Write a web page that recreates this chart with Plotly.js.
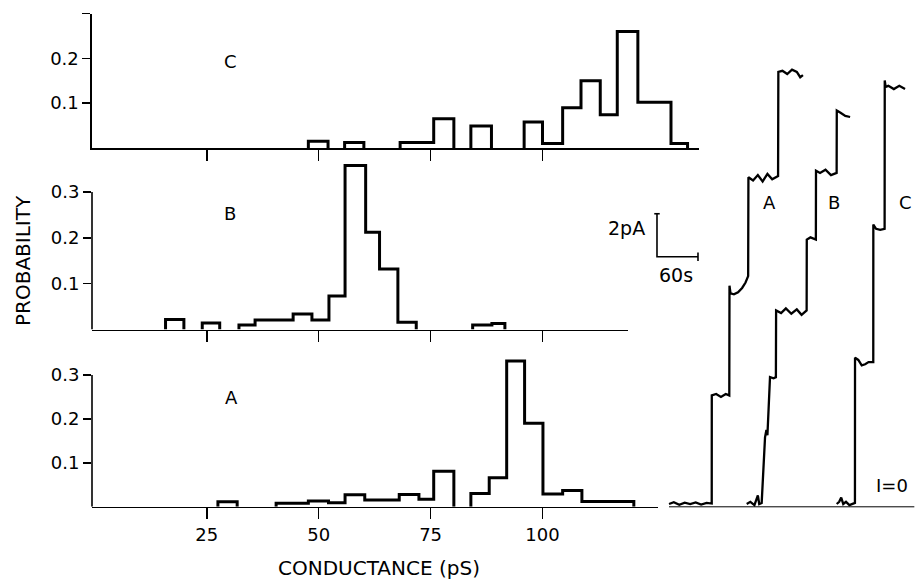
<!DOCTYPE html>
<html>
<head>
<meta charset="utf-8">
<script src="https://cdn.plot.ly/plotly-3.0.1.min.js"></script>
<style>html,body{margin:0;padding:0;background:#fff}#chart{width:915px;height:583px}</style>
</head>
<body>
<div id="chart"></div>
<script>
// ---------- Histogram data (conductance bins in pS, probability) ----------
const cLeft  = [47.7, 55.8, 68.2, 75.7, 84.0, 95.9, 100.0, 104.5, 108.6, 112.9, 116.7, 121.3, 128.7];
const cRight = [52.1, 60.1, 75.7, 80.2, 88.6, 100.0, 104.5, 108.6, 112.9, 116.7, 121.3, 128.7, 132.4];
const cProb  = [0.015, 0.012, 0.012, 0.065, 0.049, 0.058, 0.010, 0.090, 0.150, 0.074, 0.260, 0.102, 0.010];

const bLeft  = [15.8, 24.0, 32.2, 35.8, 44.3, 48.5, 52.3, 55.9, 60.5, 63.6, 67.7, 84.4, 88.7];
const bRight = [19.9, 27.9, 35.8, 44.3, 48.5, 52.3, 55.9, 60.5, 63.6, 67.7, 71.8, 88.7, 91.6];
const bProb  = [0.022, 0.014, 0.010, 0.021, 0.034, 0.021, 0.073, 0.358, 0.212, 0.132, 0.016, 0.010, 0.013];

const aLeft  = [27.5, 40.5, 47.7, 52.2, 55.9, 60.3, 68.0, 72.4, 75.7, 84.0, 88.1, 92.0, 96.0, 100.1, 104.5, 108.8];
const aRight = [31.8, 47.7, 52.2, 55.9, 60.3, 68.0, 72.4, 75.7, 80.2, 88.1, 92.0, 96.0, 100.1, 104.5, 108.8, 120.4];
const aProb  = [0.011, 0.008, 0.013, 0.009, 0.027, 0.015, 0.028, 0.017, 0.081, 0.030, 0.066, 0.332, 0.190, 0.029, 0.037, 0.012];

const condTicks = [25, 50, 75, 100];
const condTickText = ['25', '50', '75', '100'];
const probTicks = [0.1, 0.2, 0.3];

// ---------- Current recordings (time in s, current in pA) ----------
const recA_t = [101,108,116,124,132,140,148,156,163.5,163.6,170,177,184,189.2,189.5,191,196,202,208,213,216.8,217.2,224,231,238,245,252,260.6,261,267,274,281,288,293,297];
const recA_i = [0,0.08,-0.04,0.06,0,0.07,-0.03,0.05,0.02,5.05,5.12,4.98,5.12,5.05,10.15,9.8,9.75,9.85,10.05,10.3,10.6,15.2,15.05,15.3,15.0,15.35,15.1,15.25,20.1,20.15,20.0,20.2,20.1,19.85,19.95];

const recB_t = [214.7,220,226,231,233,236.6,241.5,243.5,245,248.8,254,257.4,257.7,265,272,280,288,295,302.4,302.6,308,315.9,316.1,322,330,338,346.3,346.5,352,359,366];
const recB_i = [0,0.1,-0.05,0.4,0,0.05,3.1,3.45,3.2,5.9,5.85,5.9,9.0,8.88,9.1,8.85,9.05,8.8,9.0,12.3,12.4,12.3,15.5,15.4,15.55,15.3,15.4,18.3,18.2,18.05,18.0];

const recC_t = [346.4,350,353,356,360,365,373.1,373.2,378,383,388,393,399.9,400,404,410,416.5,416.7,418,422,430,438,446.4];
const recC_i = [0,0.1,0.3,0,0.1,-0.05,0.05,6.8,6.7,6.45,6.5,6.6,6.6,13.0,12.8,12.75,12.8,19.7,19.4,19.45,19.3,19.45,19.3];

const zeroLine_t = [101, 460];
const zeroLine_i = [-0.13, -0.13];

// scale bar: origin (s, pA), sizes
const scaleOrigin = [83.4, 11.5];
const scaleCurrent = 2;   // pA
const scaleTime = 60;     // s

// ---------- helpers ----------
const W = 915, H = 583;
const fx = px => px / W;
const fy = py => 1 - py / H;
const FONT = 'DejaVu Sans, Liberation Sans, Arial, sans-serif';

function histPath(L, R, P) {
  const xs = [], ys = [];
  let prevR = null;
  for (let i = 0; i < L.length; i++) {
    if (prevR === null || Math.abs(L[i] - prevR) > 0.05) {
      if (prevR !== null) { xs.push(prevR, null); ys.push(0, null); }
      xs.push(L[i]); ys.push(0);
    }
    xs.push(L[i], R[i]); ys.push(P[i], P[i]);
    prevR = R[i];
  }
  xs.push(prevR); ys.push(0);
  return {x: xs, y: ys};
}

const hC = histPath(cLeft, cRight, cProb);
const hB = histPath(bLeft, bRight, bProb);
const hA = histPath(aLeft, aRight, aProb);

const histLine = {color: '#000', width: 3, shape: 'linear'};
const recLine = {color: '#000', width: 2.3};

const sx = scaleOrigin[0], sy = scaleOrigin[1];
const cap = 4;
const scaleBar = {
  x: [sx - cap, sx + cap, null, sx, sx, sx + scaleTime, null, sx + scaleTime, sx + scaleTime],
  y: [sy + scaleCurrent, sy + scaleCurrent, null, sy + scaleCurrent, sy, sy, null, sy - 0.2, sy + 0.2]
};

const data = [
  {x: hC.x, y: hC.y, xaxis: 'x', yaxis: 'y', mode: 'lines', line: histLine, hoverinfo: 'skip'},
  {x: hB.x, y: hB.y, xaxis: 'x2', yaxis: 'y2', mode: 'lines', line: histLine, hoverinfo: 'skip'},
  {x: hA.x, y: hA.y, xaxis: 'x3', yaxis: 'y3', mode: 'lines', line: histLine, hoverinfo: 'skip'},
  {x: zeroLine_t, y: zeroLine_i, xaxis: 'x4', yaxis: 'y4', mode: 'lines', line: {color: '#000', width: 1}},
  {x: recA_t, y: recA_i, xaxis: 'x4', yaxis: 'y4', mode: 'lines', line: recLine},
  {x: recB_t, y: recB_i, xaxis: 'x4', yaxis: 'y4', mode: 'lines', line: recLine},
  {x: recC_t, y: recC_i, xaxis: 'x4', yaxis: 'y4', mode: 'lines', line: recLine},
  {x: scaleBar.x, y: scaleBar.y, xaxis: 'x4', yaxis: 'y4', mode: 'lines', line: {color: '#000', width: 1.6}}
];

const pxPerPS = 4.477, zeroPx = 94.8;
const psAt = px => (px - zeroPx) / pxPerPS;

function xAx(endPx, anchor, labels) {
  return {
    domain: [fx(92), fx(endPx)], range: [psAt(92), psAt(endPx)], anchor: anchor,
    showline: true, linecolor: '#000', linewidth: 1.6, showgrid: false, zeroline: false,
    ticks: 'outside', ticklen: 11, tickwidth: 1.6, tickcolor: '#000',
    tickvals: condTicks, ticktext: condTickText, showticklabels: labels,
    tickfont: {family: FONT, size: 18, color: '#000'}, fixedrange: true
  };
}
function yAx(basePx, topPx, maxV, anchor, showLine, tickText) {
  const pxPerUnit = (basePx - topPx) / 0.3;
  const topRangePx = basePx - maxV * pxPerUnit;
  return {
    domain: [fy(basePx), fy(topRangePx)], range: [0, maxV], anchor: anchor,
    showline: showLine, linecolor: '#000', linewidth: 1.6, showgrid: false, zeroline: false,
    ticks: 'outside', ticklen: 8, tickwidth: 1.6, tickcolor: '#000',
    tickvals: probTicks, ticktext: tickText,
    tickfont: {family: FONT, size: 18, color: '#000'}, fixedrange: true
  };
}

const recPxPerS = 41 / 60, recPxPerPA = 21.5, recZeroPy = 504, recLeftPx = 600;

const layout = {
  width: W, height: H, margin: {l: 0, r: 0, t: 0, b: 0},
  paper_bgcolor: '#fff', plot_bgcolor: 'rgba(0,0,0,0)', showlegend: false,
  font: {family: FONT, color: '#000'},
  xaxis: xAx(699, 'y', false),
  yaxis: yAx(148, 13.5, 0.3, 'x', true, ['0.1', '0.2', '']),
  xaxis2: xAx(627.6, 'y2', false),
  yaxis2: yAx(329.5, 192, 0.37, 'x2', false, ['0.1', '0.2', '0.3']),
  xaxis3: xAx(657.5, 'y3', true),
  yaxis3: yAx(506.7, 375, 0.37, 'x3', false, ['0.1', '0.2', '0.3']),
  xaxis4: {domain: [fx(recLeftPx), 1], range: [0, (W - recLeftPx) / recPxPerS], anchor: 'y4', visible: false, fixedrange: true},
  yaxis4: {domain: [fy(520), fy(40)], range: [(recZeroPy - 520) / recPxPerPA, (recZeroPy - 40) / recPxPerPA], anchor: 'x4', visible: false, fixedrange: true},
  shapes: [
    {type: 'line', xref: 'x2 domain', yref: 'y2', x0: 0, x1: 0, y0: 0, y1: 0.3, line: {color: '#000', width: 1.6}},
    {type: 'line', xref: 'x3 domain', yref: 'y3', x0: 0, x1: 0, y0: 0, y1: 0.3, line: {color: '#000', width: 1.6}}
  ],
  annotations: [
    {text: 'PROBABILITY', x: fx(23), y: fy(261), textangle: -90, size: 20},
    {text: 'CONDUCTANCE (pS)', x: fx(379), y: fy(568), size: 20},
    {text: 'C', x: fx(230), y: fy(62), size: 18},
    {text: 'B', x: fx(230), y: fy(214), size: 18},
    {text: 'A', x: fx(231), y: fy(397), size: 18},
    {text: 'A', x: fx(769), y: fy(203), size: 18},
    {text: 'B', x: fx(834), y: fy(203), size: 18},
    {text: 'C', x: fx(905), y: fy(203), size: 18},
    {text: '2pA', x: fx(626), y: fy(228), size: 19},
    {text: '60s', x: fx(676), y: fy(275), size: 19},
    {text: 'I=0', x: fx(892), y: fy(485), size: 18}
  ].map(a => ({
    text: a.text, x: a.x, y: a.y, xref: 'paper', yref: 'paper', showarrow: false,
    textangle: a.textangle || 0, xanchor: 'center', yanchor: 'middle',
    font: {family: FONT, size: a.size, color: '#000'}
  }))
};

Plotly.newPlot('chart', data, layout, {displayModeBar: false, staticPlot: true});
</script>
</body>
</html>
